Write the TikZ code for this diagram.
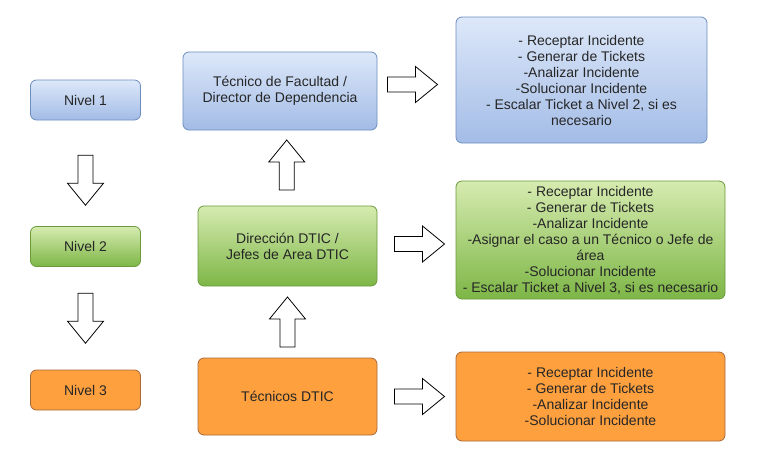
\documentclass[tikz,border=0pt]{standalone}
\usepackage{fontspec}
\setmainfont{Liberation Sans}
\usetikzlibrary{calc}

\definecolor{azularriba}{HTML}{DDE8F9}
\definecolor{azulabajo}{HTML}{A3BCE6}
\definecolor{azulborde}{HTML}{6C8EBF}
\definecolor{verdearriba}{HTML}{D6EBB0}
\definecolor{verdeabajo}{HTML}{7DB646}
\definecolor{verdeborde}{HTML}{6A9A3A}
\definecolor{naranja}{HTML}{FFA03F}
\definecolor{naranjaborde}{HTML}{A8683A}

\tikzset{
    caja/.style={rounded corners=6pt, align=center, inner sep=0pt, line width=0.8pt,
        text=black!85, font=\fontsize{14}{16}\selectfont},
    azul/.style={caja, draw=azulborde, top color=azularriba, bottom color=azulabajo},
    verde/.style={caja, draw=verdeborde, top color=verdearriba, bottom color=verdeabajo},
    naranja/.style={caja, draw=naranjaborde, fill=naranja},
    pics/flecha/.style={code={
        \draw[line width=0.8pt, fill=white, rotate=#1]
            (-25,-7.5) -- (3,-7.5) -- (3,-18) -- (25,0) -- (3,18) -- (3,7.5) -- (-25,7.5) -- cycle;
    }}
}

\begin{document}
\begin{tikzpicture}[x=1pt, y=-1pt]
    \useasboundingbox (0,0) rectangle (769,471);

    % 左列：レベル
    \node[azul, minimum width=110pt, minimum height=40pt] (lv1) at (85.5,100) {Nivel 1};
    \node[verde, minimum width=110pt, minimum height=40pt] (lv2) at (85.5,246.5) {Nivel 2};
    \node[naranja, minimum width=110pt, minimum height=40pt] (lv3) at (85.5,390) {Nivel 3};

    % 中央列：担当
    \node[azul, minimum width=194pt, minimum height=78pt] (rol1) at (280,91)
        {Técnico de Facultad /\\Director de Dependencia};
    \node[verde, minimum width=179pt, minimum height=80pt] (rol2) at (287.5,246)
        {Dirección DTIC /\\Jefes de Area DTIC};
    \node[naranja, minimum width=179pt, minimum height=77pt] (rol3) at (287.5,396.5)
        {Técnicos DTIC};

    % 右列：作業
    \node[azul, minimum width=251pt, minimum height=126pt] (tar1) at (581.5,80)
        {- Receptar Incidente\\- Generar de Tickets\\-Analizar Incidente\\-Solucionar Incidente\\
         - Escalar Ticket a Nivel 2, si es\\necesario};
    \node[verde, minimum width=269pt, minimum height=118pt] (tar2) at (590.5,240)
        {- Receptar Incidente\\- Generar de Tickets\\-Analizar Incidente\\
         -Asignar el caso a un Técnico o Jefe de\\área\\-Solucionar Incidente\\
         - Escalar Ticket a Nivel 3, si es necesario};
    \node[naranja, minimum width=269pt, minimum height=89pt] (tar3) at (590.5,396.5)
        {- Receptar Incidente\\- Generar de Tickets\\-Analizar Incidente\\-Solucionar Incidente};

    % 矢印
    \pic at ($(lv1.south)!0.5!(lv2.north)+(0,7)$) {flecha=-90};
    \pic at ($(lv2.south)!0.5!(lv3.north)$) {flecha=-90};
    \pic at ($(rol2.north)!0.5!(rol1.south)+(3,-3)$) {flecha=90};
    \pic at ($(rol3.north)!0.5!(rol2.south)$) {flecha=90};
    \pic at ($(rol1.east)!0.5!(tar1.west)+(-4,-1)$) {flecha=0};
    \pic at ($(rol2.east)!0.5!(tar2.west)+(3,1)$) {flecha=0};
    \pic at ($(rol3.east)!0.5!(tar3.west)+(3,0)$) {flecha=0};
\end{tikzpicture}
\end{document}
